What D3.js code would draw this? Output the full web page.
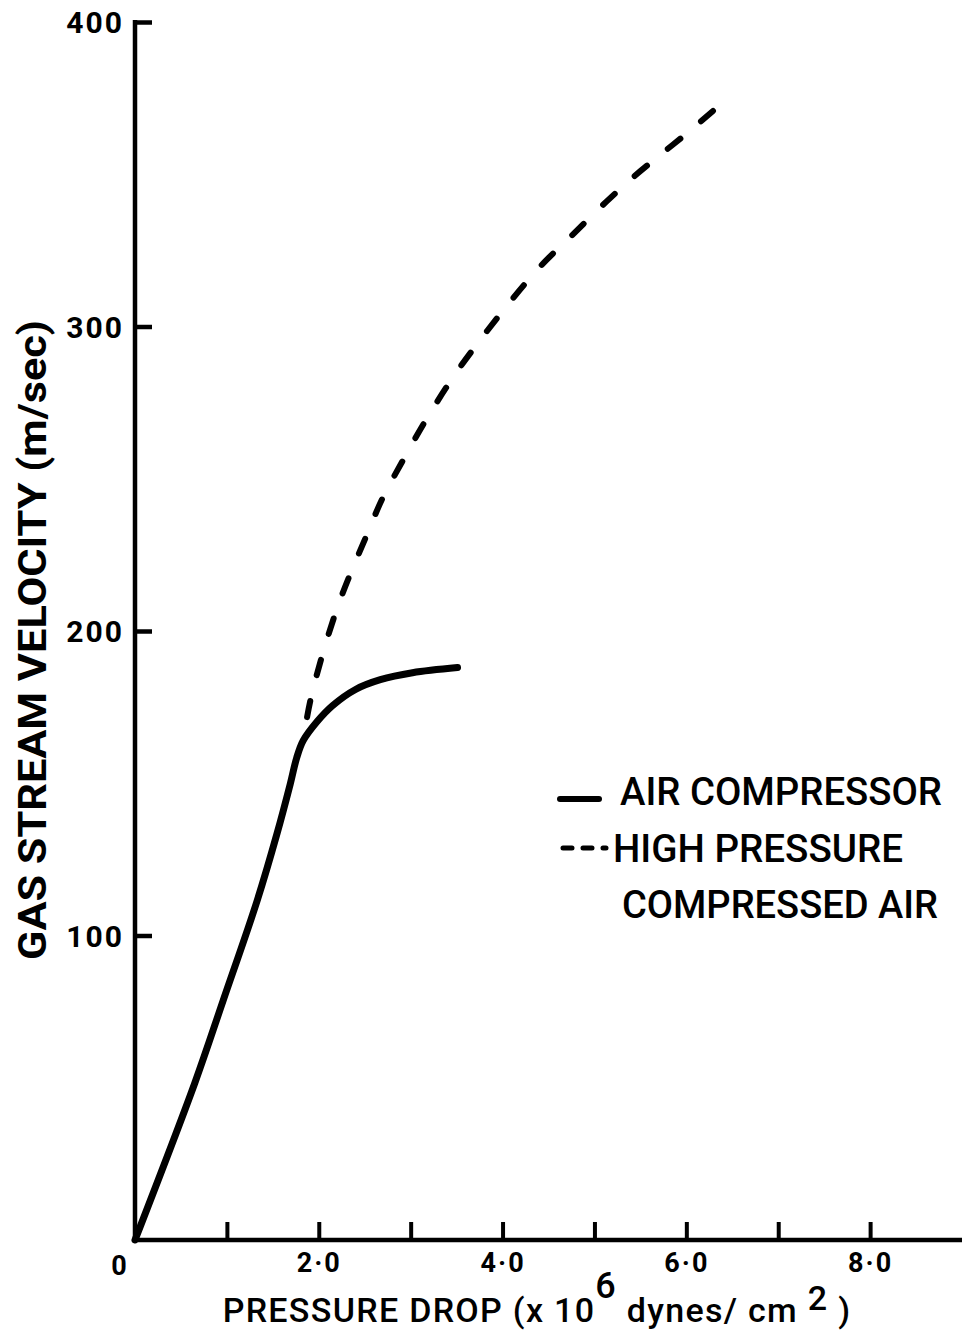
<!DOCTYPE html>
<html>
<head>
<meta charset="utf-8">
<script src="https://cdn.jsdelivr.net/npm/d3@7"></script>
<style>
  html, body { margin: 0; padding: 0; background: #fff; }
  svg { display: block; }
  text { fill: #000; font-family: "Roboto", "Liberation Sans", sans-serif; }
</style>
</head>
<body>
<div id="chart"></div>
<script>
// ---- data ----
const airPressure = [0, 0.65, 0.96, 1.33, 1.545, 1.69, 1.76, 1.83, 1.98, 2.15, 2.40, 2.67, 3.02, 3.51];
const airVelocity = [0, 51.5, 78.7, 111.5, 133.4, 149.8, 158.4, 164, 170.2, 175.5, 180.8, 184, 186.3, 188];

const hpPressure = [1.83, 1.92, 2.20, 2.54, 2.70, 2.91, 3.17, 3.49, 3.76, 4.05, 4.41, 4.74, 5.13, 5.44, 5.73, 6.04, 6.29];
const hpVelocity = [164, 178.7, 207.5, 232.8, 244, 255.7, 269.5, 284.6, 295.7, 306.9, 319.7, 329.5, 341, 349.5, 356.7, 364.3, 370.8];

const xTickValues = [1, 2, 3, 4, 5, 6, 7, 8];
const xTickLabels = ["", "2\u00B70", "", "4\u00B70", "", "6\u00B70", "", "8\u00B70"];
const yTickValues = [100, 200, 300, 400];
const yTickLabels = ["100", "200", "300", "400"];

const seriesNames = ["AIR COMPRESSOR", "HIGH PRESSURE", "COMPRESSED AIR"];

// ---- layout ----
const W = 963, H = 1334;
const x = d3.scaleLinear().domain([0, 9]).range([135, 962]);
const y = d3.scaleLinear().domain([0, 400]).range([1240, 22]);

const svg = d3.select("#chart").append("svg").attr("width", W).attr("height", H);

// y axis
const yAxis = d3.axisLeft(y)
  .tickValues(yTickValues)
  .tickFormat((d, i) => yTickLabels[i])
  .tickSizeInner(-17).tickSizeOuter(0).tickPadding(11);
const gy = svg.append("g").attr("transform", `translate(${x(0)},0)`).call(yAxis);
gy.select(".domain").attr("stroke", "#000").attr("stroke-width", 4.5)
  .attr("d", `M0,${y(0)}V${y(400) - 2}`);
gy.selectAll(".tick line").attr("stroke", "#000").attr("stroke-width", 4.5);
gy.selectAll(".tick text")
  .attr("font-size", 30).attr("font-weight", "bold").attr("letter-spacing", 2)
  .attr("font-family", "Roboto, 'Liberation Sans', sans-serif")
  .attr("dy", "0.36em");

// x axis
const xAxis = d3.axisBottom(x)
  .tickValues(xTickValues)
  .tickFormat((d, i) => xTickLabels[i])
  .tickSizeInner(-18).tickSizeOuter(0).tickPadding(13);
const gx = svg.append("g").attr("transform", `translate(0,${y(0)})`).call(xAxis);
gx.select(".domain").attr("stroke", "#000").attr("stroke-width", 4.5)
  .attr("d", `M${x(0) - 2},0H${x(9)}`);
gx.selectAll(".tick line").attr("stroke", "#000").attr("stroke-width", 4);
gx.selectAll(".tick text")
  .attr("font-size", 27).attr("font-weight", "bold").attr("letter-spacing", 2)
  .attr("font-family", "Roboto, 'Liberation Sans', sans-serif");

// origin label
svg.append("text").attr("x", x(0) - 16).attr("y", y(0) + 35)
  .attr("text-anchor", "middle").attr("font-size", 27).attr("font-weight", "bold")
  .text("0");

// lines
const airData = airPressure.map((p, i) => [p, airVelocity[i]]);
const hpData = hpPressure.map((p, i) => [p, hpVelocity[i]]);
const line = d3.line().x(d => x(d[0])).y(d => y(d[1])).curve(d3.curveCatmullRom.alpha(0.5));

const hpPath = svg.append("path").datum(hpData).attr("d", line)
  .attr("fill", "none").attr("stroke", "#000").attr("stroke-width", 6)
  .attr("stroke-linecap", "round");
// dash pattern: leading gap after the branch point, ending on a dash
const L = hpPath.node().getTotalLength();
const dashLen = 16, lead = 24, gap0 = 28;
const n = Math.round((L - lead + gap0) / (dashLen + gap0));
const gap = (L - lead - n * dashLen) / (n - 1);
hpPath.attr("stroke-dasharray", `${dashLen},${gap}`)
  .attr("stroke-dashoffset", dashLen + gap - lead);

svg.append("path").datum(airData).attr("d", line)
  .attr("fill", "none").attr("stroke", "#000").attr("stroke-width", 7)
  .attr("stroke-linecap", "round").attr("stroke-linejoin", "round");

// legend
const lg = svg.append("g");
lg.append("line").attr("x1", 560).attr("x2", 599).attr("y1", 799).attr("y2", 799)
  .attr("stroke", "#000").attr("stroke-width", 6).attr("stroke-linecap", "round");
lg.append("line").attr("x1", 563).attr("x2", 606).attr("y1", 848).attr("y2", 848)
  .attr("stroke", "#000").attr("stroke-width", 5).attr("stroke-linecap", "round")
  .attr("stroke-dasharray", "9,11");
const legendText = (xx, yy, len, s) => lg.append("text").attr("x", xx).attr("y", yy)
  .attr("font-size", 38).attr("font-weight", 500)
  .attr("textLength", len).attr("lengthAdjust", "spacingAndGlyphs").text(s);
legendText(620, 805, 322, seriesNames[0]);
legendText(613, 862, 290, seriesNames[1]);
legendText(622, 918, 316, seriesNames[2]);

// x title
const xt = svg.append("text").attr("x", 537).attr("y", 1322)
  .attr("text-anchor", "middle").attr("font-size", 34).attr("font-weight", 500)
  .attr("letter-spacing", 1.3);
xt.append("tspan").text("PRESSURE  DROP (x 10");
xt.append("tspan").attr("dy", -24).attr("font-size", 36).text("6");
xt.append("tspan").attr("dy", 24).text(" dynes/ cm");
xt.append("tspan").attr("dy", -12).attr("font-size", 34).text(" 2");
xt.append("tspan").attr("dy", 12).text(" )");

// y title
svg.append("text").attr("transform", "translate(46,640) rotate(-90)")
  .attr("text-anchor", "middle").attr("font-size", 38).attr("font-weight", "bold")
  .attr("textLength", 640).attr("lengthAdjust", "spacingAndGlyphs")
  .text("GAS STREAM  VELOCITY (m/sec)");
</script>
</body>
</html>
